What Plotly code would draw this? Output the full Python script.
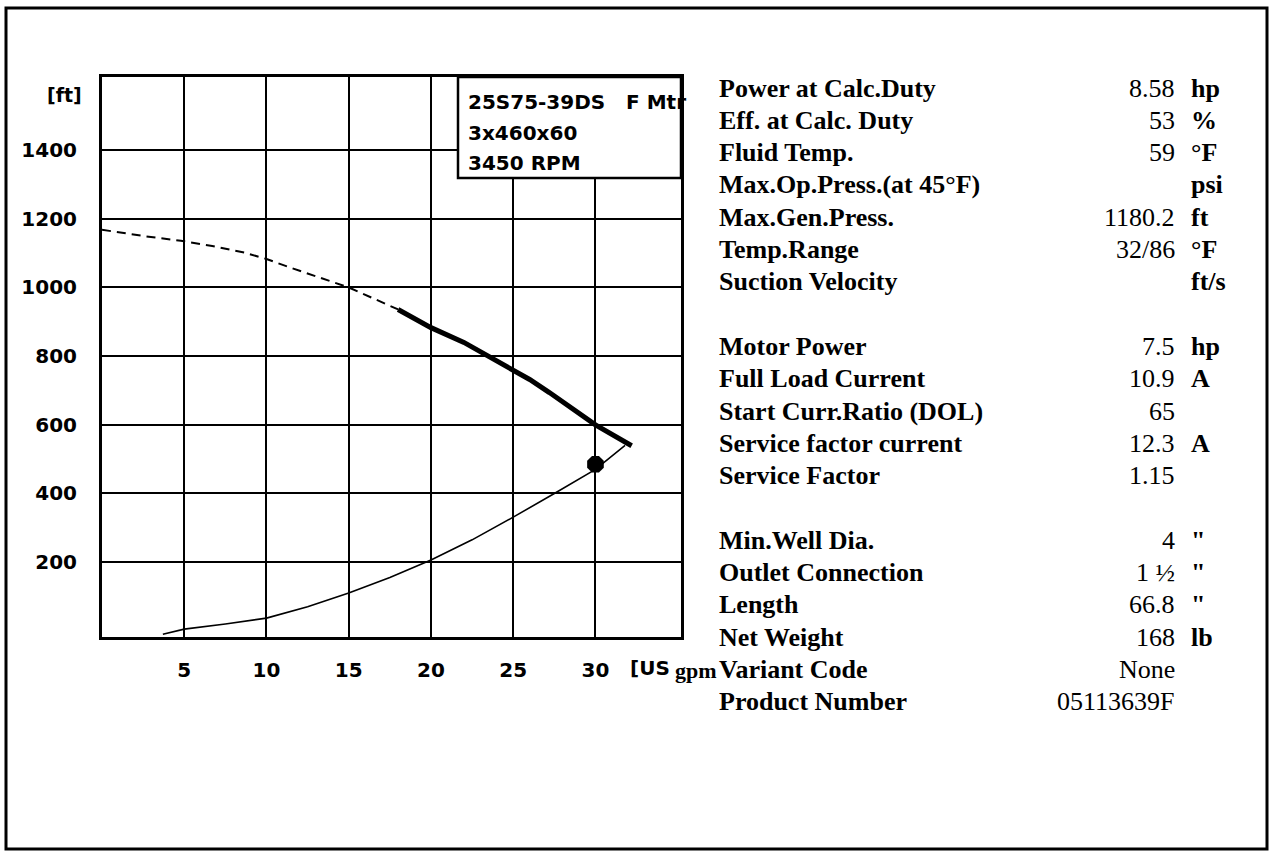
import plotly.graph_objects as go

# ---------------- data ----------------
flow_dashed = [0, 2.5, 4.8, 6.7, 8.7, 10, 11.2, 13.2, 15, 18]
head_dashed = [1168, 1150, 1136, 1121, 1101, 1083, 1062, 1029, 1000, 936]

flow_duty = [18, 20, 22, 23.5, 25, 26, 27.2, 28.5, 30, 32.2]
head_duty = [936, 883, 840, 800, 758, 732, 694, 650, 600, 539]

flow_system = [3.7, 5, 7.5, 10, 12.5, 15, 17.5, 20, 22.5, 25, 27.5, 30, 31.8]
head_system = [-10, 5, 20, 37, 70, 110, 155, 206, 265, 331, 400, 470, 540]

duty_flow = [30]
duty_head = [485]

x_ticks = [5, 10, 15, 20, 25, 30]
y_ticks = [200, 400, 600, 800, 1000, 1200, 1400]

legend_lines = ["25S75-39DS\u00a0\u00a0\u00a0F Mtr", "3x460x60", "3450 RPM"]

table_labels = ["Power at Calc.Duty", "Eff. at Calc. Duty", "Fluid Temp.",
                "Max.Op.Press.(at 45°F)", "Max.Gen.Press.", "Temp.Range",
                "Suction Velocity",
                "Motor Power", "Full Load Current", "Start Curr.Ratio (DOL)",
                "Service factor current", "Service Factor",
                "Min.Well Dia.", "Outlet Connection", "Length", "Net Weight",
                "Variant Code", "Product Number"]
table_values = ["8.58", "53", "59", "", "1180.2", "32/86", "",
                "7.5", "10.9", "65", "12.3", "1.15",
                "4", "1 ½", "66.8", "168", "None", "05113639F"]
table_units = ["hp", "%", "°F", "psi", "ft", "°F", "ft/s",
               "hp", "A", "", "A", "",
               '"', '"', '"', "lb", "", ""]
table_rows = [0, 1, 2, 3, 4, 5, 6,
              8, 9, 10, 11, 12,
              14, 15, 16, 17, 18, 19]

# ---------------- layout geometry (pixels) ----------------
W, H = 1271, 854
L, R, T, B = 102, 681, 77, 637


def px(xp):
    return (xp - L) / (R - L)


def py(yp):
    return (B - yp) / (B - T)


fig = go.Figure()

fig.add_trace(go.Scatter(x=flow_dashed, y=head_dashed, mode="lines",
                         line=dict(color="black", width=2, dash="9px,6px"),
                         hoverinfo="skip"))
fig.add_trace(go.Scatter(x=flow_duty, y=head_duty, mode="lines",
                         line=dict(color="black", width=5),
                         hoverinfo="skip"))
fig.add_trace(go.Scatter(x=flow_system, y=head_system, mode="lines",
                         line=dict(color="black", width=1.6),
                         hoverinfo="skip"))
fig.add_trace(go.Scatter(x=duty_flow, y=duty_head, mode="markers",
                         marker=dict(color="black", size=18, symbol="octagon"),
                         hoverinfo="skip"))

tickfont = dict(family="DejaVu Sans", size=20, color="black", weight="bold")

fig.update_xaxes(range=[0, 35.2], tickvals=x_ticks, ticktext=[str(v) for v in x_ticks],
                 showgrid=True, gridcolor="black", gridwidth=2,
                 showline=True, linecolor="black", linewidth=3, mirror=True,
                 zeroline=False, ticks="", tickfont=tickfont,
                 ticklabelstandoff=13)
fig.update_yaxes(range=[-18, 1613], tickvals=y_ticks, ticktext=[str(v) for v in y_ticks],
                 showgrid=True, gridcolor="black", gridwidth=2,
                 showline=True, linecolor="black", linewidth=3, mirror=True,
                 zeroline=False, ticks="", tickfont=tickfont,
                 ticklabelstandoff=18)

shapes = []
# outer frame
shapes.append(dict(type="rect", xref="paper", yref="paper",
                   x0=px(6), x1=px(1267), y0=py(849), y1=py(8),
                   line=dict(color="black", width=3), fillcolor="rgba(0,0,0,0)",
                   layer="above"))
# legend box
shapes.append(dict(type="rect", xref="paper", yref="paper",
                   x0=px(458), x1=px(681), y0=py(178), y1=py(77),
                   line=dict(color="black", width=2.5), fillcolor="white",
                   layer="above"))

annotations = []
for i, t in enumerate(legend_lines):
    annotations.append(dict(xref="paper", yref="paper", x=px(466), y=py(102 + 30.5 * i),
                            xanchor="left", yanchor="middle", showarrow=False, text=t,
                            font=dict(family="DejaVu Sans", size=20, color="black",
                                      weight="bold")))

annotations.append(dict(xref="paper", yref="paper", x=px(84), y=py(95),
                        xanchor="right", yanchor="middle", showarrow=False, text="[ft]",
                        font=dict(family="DejaVu Sans", size=19, color="black",
                                  weight="bold")))
annotations.append(dict(xref="paper", yref="paper", x=px(628), y=py(668),
                        xanchor="left", yanchor="middle", showarrow=False, text="[US",
                        font=dict(family="DejaVu Sans", size=20, color="black",
                                  weight="bold")))
annotations.append(dict(xref="paper", yref="paper", x=px(673), y=py(670),
                        xanchor="left", yanchor="middle", showarrow=False, text="gpm",
                        font=dict(family="Liberation Serif", size=22, color="black",
                                  weight="bold")))

ROW0, STEP = 88, 32.3
for lab, val, unit, r in zip(table_labels, table_values, table_units, table_rows):
    yy = py(ROW0 + STEP * r)
    annotations.append(dict(xref="paper", yref="paper", x=px(717), y=yy,
                            xanchor="left", yanchor="middle", showarrow=False, text=lab,
                            font=dict(family="Liberation Serif", size=26, color="black",
                                      weight="bold")))
    if val:
        annotations.append(dict(xref="paper", yref="paper", x=px(1177), y=yy,
                                xanchor="right", yanchor="middle", showarrow=False, text=val,
                                font=dict(family="Liberation Serif", size=26, color="black")))
    if unit:
        annotations.append(dict(xref="paper", yref="paper", x=px(1189), y=yy,
                                xanchor="left", yanchor="middle", showarrow=False, text=unit,
                                font=dict(family="Liberation Serif", size=26, color="black",
                                          weight="bold")))

fig.update_layout(width=W, height=H, autosize=False,
                  margin=dict(l=L, r=W - R, t=T, b=H - B, pad=0),
                  paper_bgcolor="white", plot_bgcolor="white",
                  showlegend=False, shapes=shapes, annotations=annotations)

fig.write_html("out.html", config={"displayModeBar": False},
               post_script="document.body.style.margin='0';document.body.style.overflow='hidden';")
